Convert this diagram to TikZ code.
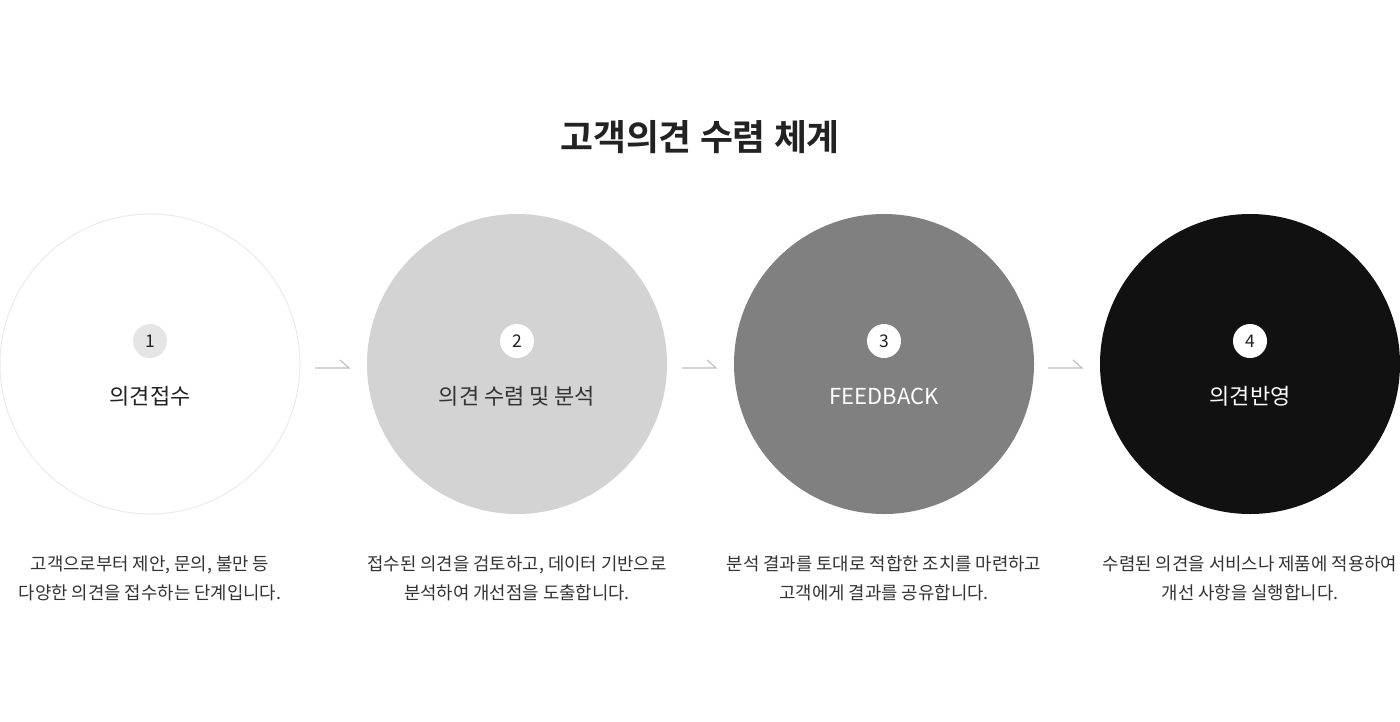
\documentclass[tikz,border=0pt]{standalone}
\usepackage{fontspec}
\setmainfont{Noto Sans CJK KR}
\newfontfamily\krbold{Noto Sans CJK KR Bold}
\definecolor{ringgray}{HTML}{EBEBEB}
\definecolor{fillA}{HTML}{FFFFFF}
\definecolor{fillB}{HTML}{D3D3D3}
\definecolor{fillC}{HTML}{808080}
\definecolor{fillD}{HTML}{111111}
\definecolor{badgeA}{HTML}{E5E5E5}
\definecolor{arrowgray}{HTML}{BDBDBD}
\definecolor{txtdark}{HTML}{222222}
\definecolor{txtmid}{HTML}{333333}
\tikzset{
  stagecircle/.style={circle, minimum size=300pt, inner sep=0pt},
  badge/.style={circle, minimum size=34pt, inner sep=0pt, font=\fontsize{17.5}{20}\selectfont, text=txtdark},
  stagelabel/.style={font=\fontsize{22}{26}\selectfont, inner sep=0pt},
  desc/.style={font=\fontsize{17.8}{29}\selectfont, text=txtmid, align=center, inner sep=0pt},
  halfarrow/.style={draw=arrowgray, line width=1.1pt},
}
\begin{document}
\begin{tikzpicture}[x=1pt,y=-1pt]
\useasboundingbox[fill=white] (0,0) rectangle (1400,721);
% title
\node[font=\krbold\fontsize{35.8}{42}\selectfont, text=txtdark, inner sep=0pt] (title) at (700,137) {고객의견 수렴 체계};
% circles
\node[stagecircle, fill=fillA, draw=ringgray, line width=1pt] (c1) at (150,364) {};
\node[stagecircle, fill=fillB] (c2) at (517,364) {};
\node[stagecircle, fill=fillC] (c3) at (884,364) {};
\node[stagecircle, fill=fillD] (c4) at (1250,364) {};
% badges
\node[badge, fill=badgeA] (b1) at (150,341) {1};
\node[badge, fill=white] (b2) at (517,341) {2};
\node[badge, fill=white] (b3) at (884,341) {3};
\node[badge, fill=white] (b4) at (1250,341) {4};
% labels
\node[stagelabel, text=txtdark] (l1) at (150,396) {의견접수};
\node[stagelabel, text=txtmid] (l2) at (517,396) {의견 수렴 및 분석};
\node[stagelabel, text=white] (l3) at (884,396) {FEEDBACK};
\node[stagelabel, text=white] (l4) at (1250,396) {의견반영};
% descriptions
\node[desc] (d1) at (150,578) {고객으로부터 제안, 문의, 불만 등\\다양한 의견을 접수하는 단계입니다.};
\node[desc] (d2) at (517,578) {접수된 의견을 검토하고, 데이터 기반으로\\분석하여 개선점을 도출합니다.};
\node[desc] (d3) at (884,578) {분석 결과를 토대로 적합한 조치를 마련하고\\고객에게 결과를 공유합니다.};
\node[desc] (d4) at (1250,578) {수렴된 의견을 서비스나 제품에 적용하여\\개선 사항을 실행합니다.};
% arrows
\coordinate (a1s) at (315,368); \coordinate (a1e) at (349,368);
\coordinate (a2s) at (682,368); \coordinate (a2e) at (716,368);
\coordinate (a3s) at (1048,368); \coordinate (a3e) at (1082,368);
\draw[halfarrow] (a1s) -- (a1e) -- ++(-9,-8);
\draw[halfarrow] (a2s) -- (a2e) -- ++(-9,-8);
\draw[halfarrow] (a3s) -- (a3e) -- ++(-9,-8);
\end{tikzpicture}
\end{document}
